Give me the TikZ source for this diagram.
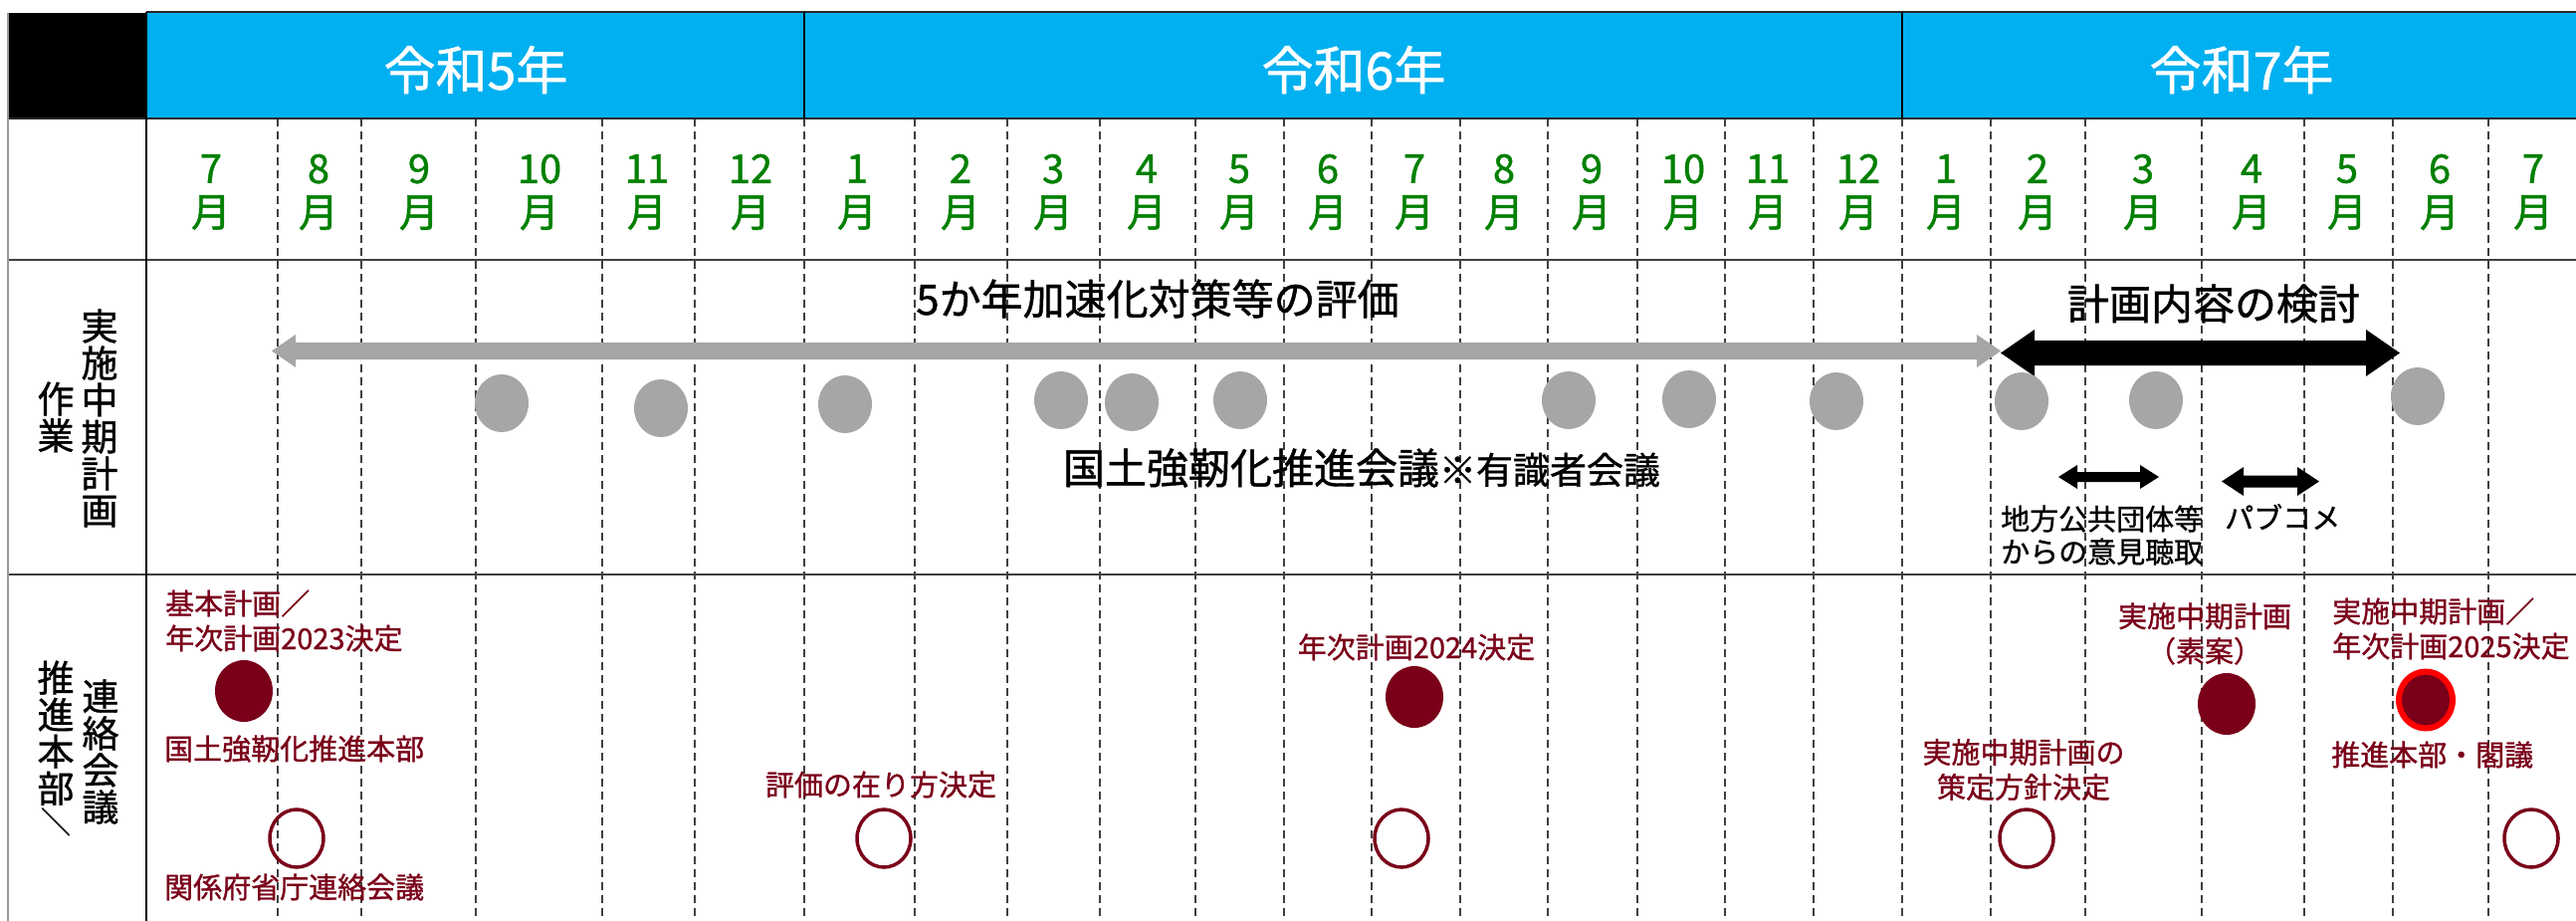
\documentclass[tikz,border=0pt]{standalone}
\usepackage{fontspec}
\setmainfont{Noto Sans CJK JP}[FakeBold=1]
\usepackage{graphicx}
\usetikzlibrary{shapes.geometric}
\definecolor{hdrblue}{HTML}{00B0F0}
\definecolor{mgreen}{HTML}{008000}
\definecolor{dred}{HTML}{7A0019}
\definecolor{dotgray}{HTML}{A6A6A6}
\definecolor{gridline}{HTML}{404040}
\newcommand{\myfs}[2]{\fontsize{#1}{#2}\selectfont}
\newcommand{\blockarrow}[7]{% style, x1, x2, y, shaft half, head half, head length
  \fill[#1] (#2,#4) -- (#2+#7,#4-#6) -- (#2+#7,#4-#5) -- (#3-#7,#4-#5) -- (#3-#7,#4-#6)
    -- (#3,#4) -- (#3-#7,#4+#6) -- (#3-#7,#4+#5) -- (#2+#7,#4+#5) -- (#2+#7,#4+#6) -- cycle;}
\tikzset{
  vdash/.style={draw=gridline, line width=1.8pt, dash pattern=on 8pt off 5pt},
  hline/.style={draw=black!85, line width=2.5pt},
  hthin/.style={draw=black!75, line width=2pt},
  solidv/.style={draw=black, line width=2.5pt},
  lborder/.style={draw=black!40, line width=1.5pt},
  month/.style={text=mgreen, align=center, inner sep=0pt, font=\myfs{40}{44}},
  yearlbl/.style={text=white, inner sep=0pt, font=\myfs{52}{60}},
  vlbl/.style={text=black, align=center, inner sep=0pt, font=\myfs{37}{37}},
  bigtxt/.style={text=black, inner sep=0pt, font=\myfs{42}{48}},
  smalltxt/.style={text=black, inner sep=0pt, align=left, font=\myfs{29}{33}},
  redtxt/.style={text=dred, inner sep=0pt, font=\myfs{29}{35}},
  gdot/.style={ellipse, fill=dotgray, inner sep=0pt, minimum width=54pt, minimum height=58pt},
  rdot/.style={ellipse, fill=dred, inner sep=0pt, minimum width=58pt, minimum height=62pt},
  rring/.style={ellipse, draw=dred, line width=3.5pt, inner sep=0pt, minimum width=54pt, minimum height=58pt},
  hotdot/.style={ellipse, fill=dred, draw=red, line width=6pt, inner sep=0pt, minimum width=54pt, minimum height=57pt}
}
\begin{document}
\begin{tikzpicture}[x=1pt,y=-1pt]
\useasboundingbox (0,0) rectangle (2588,925);
\fill[white] (0,0) rectangle (2588,925);
% header cells
\fill[black] (8,13) rectangle (147,119);
\fill[hdrblue] (147,12) rectangle (2588,119);
% dashed month boundaries
\foreach \x in {279,363,478,605,698,808,919,1012,1105,1201,1290,1378,1467,1555,1645,1733,1822,1911,2000,2095,2212,2315,2404,2500}
  \draw[vdash] (\x,119) -- (\x,925);
% table rules
\draw[hline] (147,12) -- (2588,12);
\draw[hline] (8,119) -- (2588,119);
\draw[hthin] (8,261) -- (2588,261);
\draw[hthin] (8,577) -- (2588,577);
\draw[lborder] (8,13) -- (8,925);
\draw[solidv] (147,12) -- (147,925);
\draw[solidv] (808,12) -- (808,119);
\draw[solidv] (1911,12) -- (1911,119);
% years
\node[yearlbl] (y5) at (478,70) {令和5年};
\node[yearlbl] (y6) at (1360,70) {令和6年};
\node[yearlbl] (y7) at (2252,70) {令和7年};
% months
\foreach \x/\m [count=\i] in {212/7,320/8,421/9,542/10,650/11,754/12,861/1,965/2,1058/3,1152/4,1245/5,1334/6,1421/7,1511/8,1599/9,1691/10,1776/11,1867/12,1955/1,2047/2,2153/3,2262/4,2358/5,2451/6,2545/7}
  \node[month] (m\i) at (\x,193) {\m\\月};
% row labels
\node[vlbl] (lab2a) at (100,420) {実\\施\\中\\期\\計\\画};
\node[vlbl] (lab2b) at (56,419) {作\\業};
\node[vlbl] (lab3a) at (56,752) {推\\進\\本\\部\\[-6pt]\rotatebox[origin=c]{-90}{\myfs{30}{30}／}};
\node[vlbl] (lab3b) at (101,755) {連\\絡\\会\\議};
% section 2 arrows
\blockarrow{dotgray}{273}{2010}{352.5}{8.5}{16.5}{24}
\blockarrow{black}{2010}{2411}{354.5}{12.5}{23.5}{34}
\blockarrow{black}{2068}{2169}{479}{5}{12}{19}
\blockarrow{black}{2232}{2330}{483.5}{6}{14.5}{22}
% section 2 texts
\node[bigtxt] (eval) at (1163,300) {5か年加速化対策等の評価};
\node[bigtxt] (kento) at (2224,305) {計画内容の検討};
\node[bigtxt] (kaigi) at (1368,470) {国土強靭化推進会議{\myfs{37}{42}※有識者会議}};
\node[smalltxt, anchor=west] (chiho) at (2010,537.5) {地方公共団体等\\からの意見聴取};
\node[smalltxt, anchor=west] (pubcom) at (2235,519) {パブコメ};
% gray dots
\foreach \x/\y [count=\i] in {504/405,664/410,849/406,1066/402,1137/404,1246/402,1576/402,1697/401,1845/403,2031/403,2166/402,2429/398}
  \node[gdot] (g\i) at (\x,\y) {};
% section 3 markers
\node[rdot] (f1) at (245,694) {};
\node[rdot] (f2) at (1421,700) {};
\node[rdot] (f3) at (2237,707) {};
\node[hotdot] (f4) at (2437,703) {};
\node[rring] (o1) at (298,842) {};
\node[rring] (o2) at (888,842) {};
\node[rring] (o3) at (1408,842) {};
\node[rring] (o4) at (2036,842) {};
\node[rring] (o5) at (2543,842) {};
% section 3 texts
\node[redtxt, anchor=west, align=left] (t1) at (166,623.5) {基本計画／\\年次計画2023決定};
\node[redtxt, anchor=west] (t2) at (165,752) {国土強靭化推進本部};
\node[redtxt, anchor=west] (t3) at (165,891) {関係府省庁連絡会議};
\node[redtxt] (t4) at (885,788) {評価の在り方決定};
\node[redtxt] (t5) at (1423,650) {年次計画2024決定};
\node[redtxt, align=center] (t6) at (2215,636.5) {実施中期計画\\（素案）};
\node[redtxt, align=center] (t7) at (2033,773) {実施中期計画の\\策定方針決定};
\node[redtxt, anchor=west, align=left] (t8) at (2343,631.5) {実施中期計画／\\年次計画2025決定};
\node[redtxt, anchor=west] (t9) at (2342,758) {推進本部・閣議};
\end{tikzpicture}
\end{document}
